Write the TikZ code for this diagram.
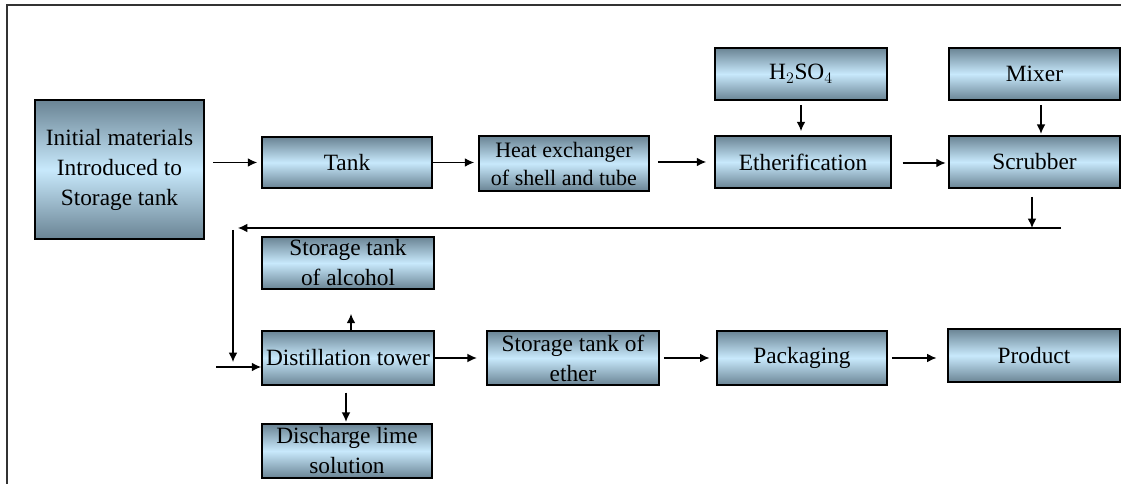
\documentclass[tikz,border=0pt]{standalone}
\usepackage{fontspec}
\setmainfont{Liberation Serif}
\usetikzlibrary{arrows.meta,calc}
\definecolor{boxdark}{HTML}{6A8494}
\definecolor{boxlight}{HTML}{C8E9FC}
\definecolor{framegray}{HTML}{333333}
\begin{document}
\begin{tikzpicture}[x=0.75pt,y=-0.75pt,
  box/.style={draw=black,line width=1.3pt,rectangle,inner sep=1pt,align=center,
    top color=boxdark,bottom color=boxdark,middle color=boxlight,
    font=\fontsize{17.5}{22.5}\selectfont},
  smallfont/.style={font=\fontsize{16.5}{21}\selectfont},
  arr/.style={line width=0.9pt,-{Latex[length=7pt,width=6.5pt]}},
  ln/.style={line width=0.9pt}]
\useasboundingbox (0,0) rectangle (1121,484);
% frame
\draw[framegray,line width=1.1pt] (7,484) -- (7,5) -- (1121,5);
% boxes
\node[box,minimum width=127pt,minimum height=104pt] (init) at (119.5,169.5) {Initial materials\\Introduced to\\Storage tank};
\node[box,minimum width=127.5pt,minimum height=38pt] (tank) at (347,162.5) {Tank};
\node[box,smallfont,minimum width=127.5pt,minimum height=41pt] (hx) at (564,163.5) {Heat exchanger\\of shell and tube};
\node[box,minimum width=132pt,minimum height=39pt] (eth) at (803,162) {Etherification};
\node[box,minimum width=129pt,minimum height=39pt] (h2so4) at (801,74) {H$_2$SO$_4$};
\node[box,minimum width=128pt,minimum height=39pt] (scrub) at (1034.5,162) {Scrubber};
\node[box,minimum width=128pt,minimum height=39pt] (mixer) at (1034.5,74) {Mixer};
\node[box,minimum width=129pt,minimum height=39pt] (alc) at (348,263) {Storage tank\\of alcohol};
\node[box,minimum width=129pt,minimum height=40.5pt] (dist) at (348,358) {Distillation tower};
\node[box,minimum width=127.5pt,minimum height=40.5pt] (dis) at (347,451) {Discharge lime\\solution};
\node[box,minimum width=129pt,minimum height=40.5pt] (ether) at (573,358) {Storage tank of\\ether};
\node[box,minimum width=127.5pt,minimum height=40.5pt] (pack) at (802,358) {Packaging};
\node[box,minimum width=129pt,minimum height=40pt] (prod) at (1034,355.5) {Product};
% main flow
\draw[arr,shorten <=6pt,shorten >=3pt] (init.east |- tank.west) -- (tank.west);
\draw[arr,shorten >=3pt] (tank.east) -- (tank.east -| hx.west);
\draw[arr,shorten <=6pt,shorten >=6pt] (hx.east |- eth.west) -- (eth.west);
\draw[arr,shorten <=3pt,shorten >=3pt] (h2so4.south) -- (h2so4.south |- eth.north);
\draw[arr,shorten <=3pt,shorten >=1pt] (mixer.south -| 1041,0) -- (scrub.north -| 1041,0);
\draw[arr,shorten <=8pt,shorten >=2pt] ($(eth.east)+(0,1)$) -- ($(scrub.west)+(0,1)$);
% feedback
\coordinate (fbR) at (1061,228);
\coordinate (fbS) at (1032,228);
\coordinate (fbL) at (238,228);
\coordinate (vtop) at (233,230);
\coordinate (vbot) at (233,362);
\coordinate (inL) at (216,367);
\draw[arr,shorten <=6pt] (scrub.south -| fbS) -- (fbS);
\draw[arr] (fbR) -- (fbL);
\draw[arr] (vtop) -- (vbot);
\draw[arr] (inL) -- (inL -| dist.west);
% distillation outputs
\draw[arr,shorten >=18pt] (dist.north -| 351,0) -- (alc.south -| 351,0);
\draw[arr,shorten <=5pt,shorten >=1pt] (dist.south -| 346,0) -- (dis.north -| 346,0);
\draw[arr,shorten >=7pt] (dist.east) -- (ether.west);
\draw[arr,shorten <=3pt,shorten >=5pt] (ether.east) -- (pack.west);
\draw[arr,shorten <=3pt,shorten >=8pt] (pack.east) -- (pack.east -| prod.west);
\end{tikzpicture}
\end{document}
